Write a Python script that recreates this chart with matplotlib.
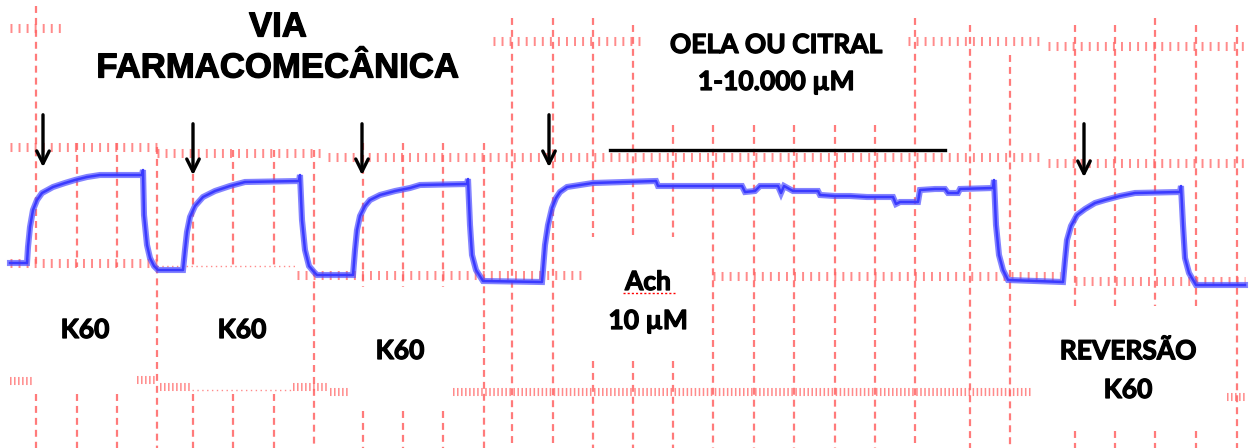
import matplotlib

matplotlib.use("Agg")
import matplotlib.pyplot as plt
import matplotlib.patheffects as pe

plt.rcParams["lines.scale_dashes"] = False

W, H = 1251, 448
GRID_RED = "#ff6464"
TRACE_BLUE = "#4f4fff"

# force trace in pixel coordinates
trace_x = [10, 27, 28, 30, 33, 37, 42, 53, 65, 75, 87, 100, 142, 143, 144, 147, 150, 154, 158,
           183, 185, 187, 190, 195, 203, 215, 230, 245, 299, 300, 302, 305, 309, 314, 317,
           353, 355, 357, 360, 365, 370, 380, 395, 410, 420, 467, 468, 470, 472, 476, 483,
           542, 545, 548, 552, 556, 560, 567, 593, 656, 658, 742, 745, 755, 760, 778, 781,
           784, 793, 818, 820, 835, 850, 867, 893, 896, 900, 918, 920, 935, 945, 948, 958,
           960, 993, 994, 996, 999, 1003, 1008, 1063, 1065, 1067, 1071, 1077, 1085, 1095,
           1105, 1120, 1135, 1180, 1181, 1183, 1185, 1189, 1196, 1245]
trace_y = [263, 263, 247, 227, 210, 200, 193, 187, 183, 180, 177, 175, 175, 170, 215, 245, 258, 266, 270,
           270, 250, 232, 217, 206, 197, 191, 186, 182, 181, 175, 220, 250, 266, 272, 275,
           275, 250, 230, 216, 206, 200, 195, 191, 188, 185, 184, 179, 225, 255, 270, 281,
           282, 245, 225, 208, 198, 192, 187, 183, 181, 186, 186, 192, 191, 186, 186, 193,
           186, 191, 191, 195, 196, 196, 197, 197, 204, 202, 202, 190, 189, 189, 193, 193,
           189, 188, 180, 225, 255, 270, 280, 282, 260, 240, 226, 215, 209, 203,
           200, 196, 193, 192, 186, 225, 258, 273, 285, 285]

# dashed vertical chart-paper lines: (x, top, bottom)
v_lines = [(36, 6, 267), (36, 394, 448), (77, 143, 267), (77, 394, 448),
           (117, 143, 267), (117, 394, 448), (157, 147, 448),
           (193, 150, 267), (193, 394, 448), (233, 150, 267), (233, 394, 448),
           (274, 150, 267), (274, 394, 448), (314, 150, 448),
           (363, 143, 287), (363, 411, 448), (403, 143, 287), (403, 411, 448),
           (443, 143, 287), (443, 411, 448), (484, 143, 448), (512, 18, 448), (553, 18, 448),
           (593, 18, 237), (593, 361, 448), (633, 25, 237), (633, 361, 448),
           (673, 125, 237), (673, 361, 448), (713, 125, 448), (754, 125, 448),
           (794, 125, 448), (835, 125, 448), (875, 125, 448), (915, 18, 448),
           (970, 25, 448), (1010, 55, 448), (1075, 25, 306), (1075, 431, 448),
           (1115, 25, 306), (1115, 431, 448), (1155, 18, 306), (1155, 431, 448),
           (1196, 25, 306), (1196, 431, 448), (1237, 25, 448)]

# tick rows: (y, x0, x1, kind)
h_rows = [(28, 10, 62, "tick"), (41, 493, 643, "tick"), (41, 908, 1043, "tick"),
          (46, 1048, 1245, "tick"), (147, 10, 157, "tick"), (153, 157, 323, "tick"),
          (157, 328, 1043, "tick"), (163, 1048, 1245, "tick"),
          (263, 10, 157, "tick"), (266, 157, 297, "thin"), (275, 297, 587, "tick"),
          (276, 713, 1060, "tick"), (281, 1075, 1245, "tick"),
          (381, 10, 33, "dense"), (380, 137, 157, "dense"), (387, 160, 192, "dense"),
          (390, 192, 293, "thin"), (387, 293, 328, "dense"), (392, 330, 350, "dense"),
          (392, 453, 1032, "dense"), (397, 1227, 1245, "dense")]

# stimulus arrows: (x, top, tip)
arrows = [(43, 112, 170), (193, 121, 178), (362, 121, 178), (549, 112, 170), (1084, 121, 180)]

ROW_STYLE = {
    "tick": dict(lw=6.5, ls=(0, (1.4, 4.4))),
    "dense": dict(lw=5.8, ls=(0, (1.1, 1.8))),
    "thin": dict(lw=1.0, ls=(0, (1.0, 2.5))),
}

fig = plt.figure(figsize=(W / 100, H / 100), dpi=100)
ax = fig.add_axes([0, 0, 1, 1])
ax.set_xlim(0, W)
ax.set_ylim(H, 0)
ax.axis("off")

for x, y0, y1 in v_lines:
    ax.vlines(x, y0, y1, color=GRID_RED, lw=1.6, linestyles=[(0, (5.0, 3.6))], alpha=0.85)

for y, x0, x1, kind in h_rows:
    st = ROW_STYLE[kind]
    ax.hlines(y, x0, x1, color=GRID_RED, lw=st["lw"], linestyles=[st["ls"]], alpha=0.75)

ax.plot(trace_x, trace_y, color=TRACE_BLUE, lw=4.4, alpha=0.7, solid_joinstyle="miter")
ax.plot(trace_x, trace_y, color="#3a3aff", lw=1.8)

for x, y0, y1 in arrows:
    ax.annotate("", xy=(x, y1), xytext=(x, y0),
                arrowprops=dict(arrowstyle="->,head_length=0.9,head_width=0.45",
                                color="black", lw=2.4))

ax.plot([610, 945], [150, 150], color="black", lw=2.4)

heavy = [pe.withStroke(linewidth=0.9, foreground="black")]
title_kw = dict(family="Liberation Sans", weight="bold", fontsize=25, ha="center",
                va="center", path_effects=heavy)
ax.text(278, 27, "VIA", **title_kw)
ax.text(278, 68, "FARMACOMECÂNICA", **title_kw)

lab = dict(family="Lato", weight="bold", fontsize=19, ha="center", va="center",
           path_effects=heavy)
ax.text(776, 45, "OELA OU CITRAL", **lab)
ax.text(776, 82, "1-10.000 µM", **lab)
ax.text(85, 330, "K60", **lab)
ax.text(242, 330, "K60", **lab)
ax.text(400, 351, "K60", **lab)
ax.text(648, 282, "Ach", **lab)
ax.plot([623, 675], [293, 293], color="red", lw=1.0, ls=(0, (1.5, 1.5)))
ax.text(648, 321, "10 µM", **lab)
ax.text(1128, 351, "REVERSÃO", **lab)
ax.text(1128, 390, "K60", **lab)

fig.savefig("out.png", dpi=100)
